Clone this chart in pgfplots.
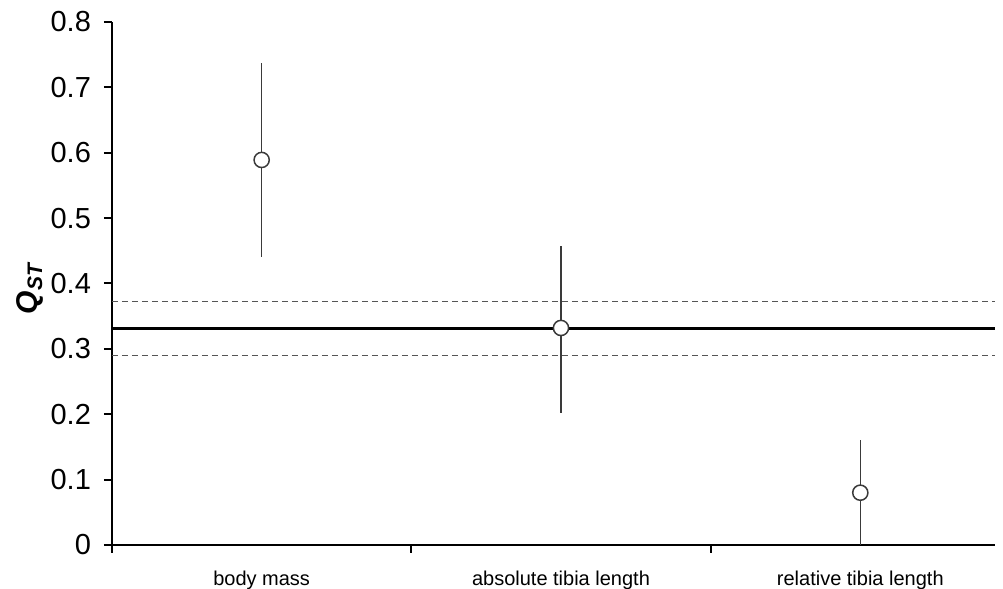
\documentclass[border=0pt]{standalone}
\usepackage{pgfplots}
\pgfplotsset{compat=1.18}
\usepackage{fontspec}
\setmainfont{Liberation Sans}
\definecolor{barcol}{HTML}{3A3A3A}
\definecolor{dashcol}{HTML}{555555}
\begin{document}
\begin{tikzpicture}
\begin{axis}[
  name=ax,
  scale only axis,
  width=441.5pt, height=261.5pt,
  xmin=0.5, xmax=3.45,
  ymin=0, ymax=0.8,
  axis x line*=bottom,
  axis y line*=left,
  axis line style={line width=1pt, black},
  every outer x axis line/.append style={-},
  every outer y axis line/.append style={-},
  xtick={0.5,1.5,2.5},
  xticklabels={},
  extra x ticks={1,2,3},
  extra x tick labels={body mass,absolute tibia length,relative tibia length},
  extra x tick style={major tick length=0pt, tick label style={font=\fontsize{10}{12}\selectfont, yshift=-9.5pt}},
  ytick={0,0.1,0.2,0.3,0.4,0.5,0.6,0.7,0.8},
  yticklabels={0,0.1,0.2,0.3,0.4,0.5,0.6,0.7,0.8},
  y tick label style={font=\fontsize{14.5}{16}\selectfont, xshift=-3pt},
  tick style={line width=1pt, black},
  major tick length=4pt,
  tick align=outside,
  ylabel={{\bfseries\itshape Q\textsubscript{ST}}},
  y label style={at={(axis description cs:-0.093,0.49)}, anchor=center, font=\fontsize{15}{17}\selectfont},
  clip=false,
]
\addplot[line width=1.4pt, black] coordinates {(0.5,0.331) (3.45,0.331)};
\addplot[line width=0.5pt, dashcol, dash pattern=on 3pt off 2pt] coordinates {(0.5,0.373) (3.45,0.373)};
\addplot[line width=0.5pt, dashcol, dash pattern=on 3pt off 2pt] coordinates {(0.5,0.290) (3.45,0.290)};
\addplot[only marks, mark=*, mark size=3.8pt,
  mark options={fill=white, draw=barcol, line width=0.75pt},
  error bars/.cd, y dir=both, y explicit, error mark=none,
  error bar style={line width=0.75pt, barcol}]
  coordinates {
  (1,0.589) -= (0,0.149) += (0,0.149)
  (2,0.332) -= (0,0.130) += (0,0.125)
  (3,0.080) -= (0,0.080) += (0,0.080)
};
\end{axis}
\pgfresetboundingbox
\path ([xshift=-56pt,yshift=-22pt]ax.south west) rectangle ([xshift=4pt,yshift=11pt]ax.north east);
\end{tikzpicture}
\end{document}
